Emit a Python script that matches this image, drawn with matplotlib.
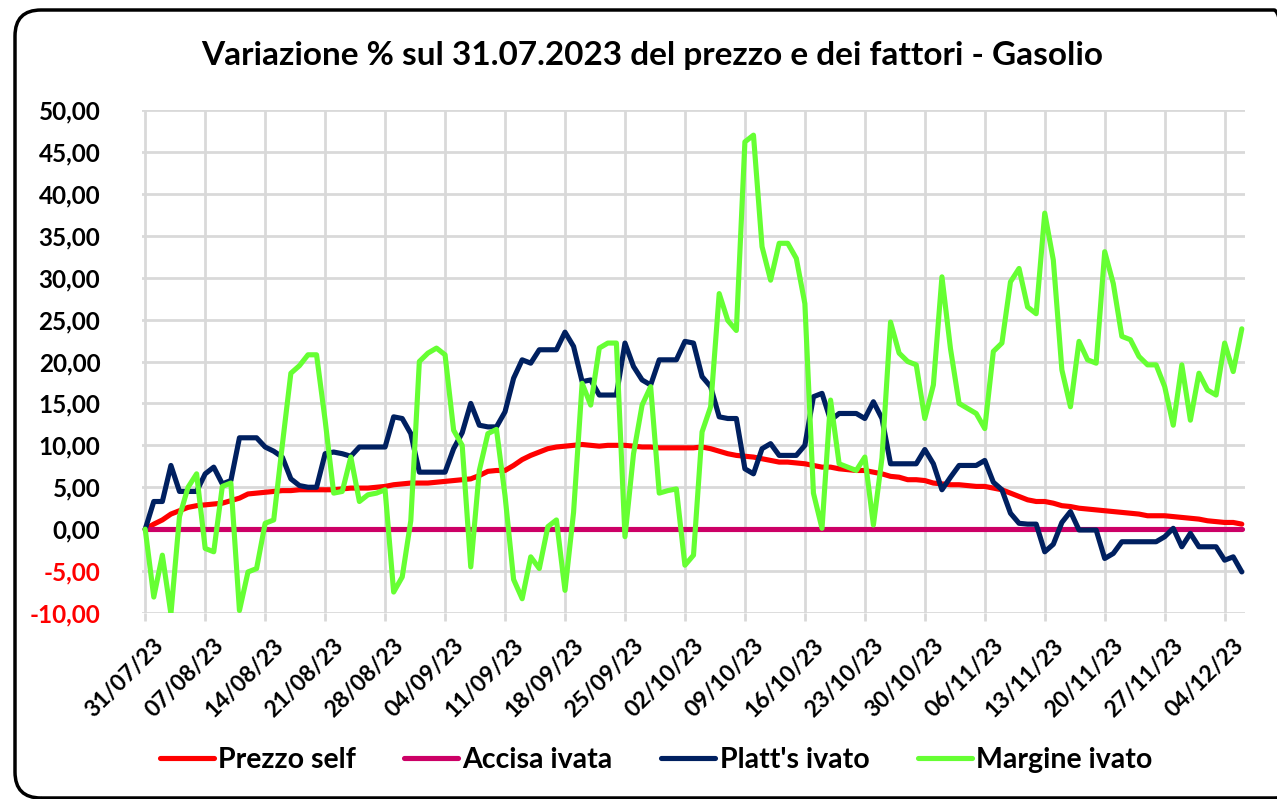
import matplotlib
matplotlib.use("Agg")
import matplotlib.pyplot as plt
import matplotlib.dates as mdates
from matplotlib.patches import FancyBboxPatch
from matplotlib.transforms import IdentityTransform, ScaledTranslation
from matplotlib.ticker import FixedLocator, FuncFormatter
import pandas as pd

# dati giornalieri 31/07/2023 - 06/12/2023 (variazione % sul 31.07.2023)
giorni = pd.date_range("2023-07-31", "2023-12-06", freq="D")

prezzo_self = [
    0.0, 0.6, 1.1, 1.8, 2.2, 2.6, 2.8, 2.9, 3.0, 3.1, 3.4, 3.7, 4.2, 4.3, 4.4, 4.5,
    4.6, 4.6, 4.7, 4.7, 4.7, 4.7, 4.7, 4.8, 4.9, 4.9, 4.9, 5.0, 5.1, 5.3, 5.4, 5.5,
    5.5, 5.5, 5.6, 5.7, 5.8, 5.9, 6.0, 6.4, 6.9, 7.0, 7.0, 7.6, 8.3, 8.8, 9.2, 9.6,
    9.8, 9.9, 10.0, 10.1, 10.0, 9.9, 10.0, 10.0, 10.0, 9.9, 9.8, 9.8, 9.7, 9.7, 9.7, 9.7,
    9.7, 9.8, 9.6, 9.3, 9.0, 8.8, 8.7, 8.6, 8.4, 8.2, 8.0, 8.0, 7.9, 7.8, 7.6, 7.4,
    7.4, 7.2, 7.1, 7.0, 7.0, 6.8, 6.6, 6.3, 6.2, 5.9, 5.9, 5.8, 5.5, 5.4, 5.3, 5.3,
    5.2, 5.1, 5.1, 4.9, 4.7, 4.3, 3.9, 3.5, 3.3, 3.3, 3.1, 2.8, 2.7, 2.5, 2.4, 2.3,
    2.2, 2.1, 2.0, 1.9, 1.8, 1.6, 1.6, 1.6, 1.5, 1.4, 1.3, 1.2, 1.0, 0.9, 0.8, 0.8,
    0.6,
]

accisa_ivata = [0.0] * len(prezzo_self)

platts_ivato = [
    0.0, 3.3, 3.3, 7.6, 4.5, 4.5, 4.5, 6.6, 7.4, 5.4, 5.8, 10.9, 10.9, 10.9, 9.8, 9.3,
    8.6, 6.0, 5.2, 5.0, 5.0, 9.0, 9.2, 9.0, 8.7, 9.8, 9.8, 9.8, 9.8, 13.4, 13.2, 11.4,
    6.8, 6.8, 6.8, 6.8, 9.6, 11.5, 15.0, 12.4, 12.2, 12.2, 14.0, 18.0, 20.2, 19.8, 21.4, 21.4,
    21.4, 23.5, 21.8, 17.6, 17.8, 16.0, 16.0, 16.0, 22.2, 19.4, 17.8, 17.2, 20.2, 20.2, 20.2, 22.4,
    22.2, 18.2, 17.0, 13.4, 13.2, 13.2, 7.2, 6.6, 9.6, 10.2, 8.8, 8.8, 8.8, 10.0, 15.8, 16.2,
    13.0, 13.8, 13.8, 13.8, 13.2, 15.2, 13.2, 7.8, 7.8, 7.8, 7.8, 9.5, 7.8, 4.7, 6.2, 7.6,
    7.6, 7.6, 8.2, 5.6, 4.7, 1.9, 0.7, 0.6, 0.6, -2.7, -1.8, 0.8, 2.1, -0.1, -0.1, -0.1,
    -3.5, -2.9, -1.5, -1.5, -1.5, -1.5, -1.5, -0.9, 0.1, -2.1, -0.5, -2.1, -2.1, -2.1, -3.7, -3.3,
    -5.1,
]

margine_ivato = [
    0.0, -8.1, -3.1, -10.1, 1.5, 5.0, 6.6, -2.3, -2.7, 5.1, 5.5, -9.7, -5.1, -4.7, 0.7, 1.1,
    10.0, 18.6, 19.5, 20.8, 20.8, 13.0, 4.3, 4.5, 8.6, 3.3, 4.1, 4.3, 4.7, -7.5, -5.7, 1.0,
    20.0, 21.0, 21.6, 20.8, 11.8, 10.0, -4.5, 7.0, 11.4, 11.9, 4.0, -6.0, -8.3, -3.3, -4.7, 0.3,
    1.1, -7.3, 2.0, 17.4, 14.8, 21.6, 22.2, 22.2, -0.9, 9.0, 14.8, 17.0, 4.3, 4.6, 4.8, -4.3,
    -3.1, 11.6, 14.6, 28.1, 24.9, 23.7, 46.2, 47.0, 33.7, 29.7, 34.1, 34.1, 32.3, 26.9, 4.3, 0.1,
    15.4, 7.8, 7.4, 7.0, 8.6, 0.5, 8.5, 24.7, 21.0, 20.0, 19.6, 13.2, 17.2, 30.1, 21.5, 15.0,
    14.4, 13.8, 12.0, 21.2, 22.2, 29.5, 31.1, 26.5, 25.7, 37.7, 32.1, 19.0, 14.6, 22.4, 20.2, 19.8,
    33.1, 29.3, 23.0, 22.6, 20.6, 19.6, 19.6, 17.0, 12.4, 19.6, 13.0, 18.6, 16.6, 16.0, 22.2, 18.8,
    23.9,
]

titolo = "Variazione % sul 31.07.2023 del prezzo e dei fattori - Gasolio"
serie = [
    ("Prezzo self", prezzo_self, "#ff0000"),
    ("Accisa ivata", accisa_ivata, "#cc0066"),
    ("Platt's ivato", platts_ivato, "#002060"),
    ("Margine ivato", margine_ivato, "#66ff33"),
]

plt.rcParams["font.family"] = ["Lato", "DejaVu Sans"]
plt.rcParams["font.weight"] = "bold"

fig = plt.figure(figsize=(12.77, 7.99), dpi=100)
ax = fig.add_axes([142 / 1277, 1 - 613 / 799, 1103 / 1277, 503 / 799])

for nome, valori, colore in serie:
    ax.plot(giorni, valori, color=colore, lw=3.7, label=nome,
            solid_joinstyle="round", solid_capstyle="round")

ax.set_ylim(-10, 50)
mezzo = pd.Timedelta(hours=9)
ax.set_xlim(giorni[0] - mezzo, giorni[-1] + mezzo)
ax.yaxis.set_major_locator(FixedLocator(range(-10, 51, 5)))
ax.yaxis.set_major_formatter(FuncFormatter(lambda v, p: f"{v:.2f}".replace(".", ",")))
ax.xaxis.set_major_locator(mdates.WeekdayLocator(byweekday=mdates.MO))
ax.xaxis.set_major_formatter(mdates.DateFormatter("%d/%m/%y"))

ax.grid(True, color="#d9d9d9", lw=2)
ax.set_axisbelow(True)
for s in ax.spines.values():
    s.set_visible(False)

ax.tick_params(axis="y", length=0, pad=30, labelsize=17.5)
ax.tick_params(axis="x", length=6, width=2, color="#d9d9d9", pad=10, labelsize=16.5)
for lab in ax.get_yticklabels():
    if lab.get_text().startswith("-"):
        lab.set_color("red")
sposta = ScaledTranslation(8 / 100, 0, fig.dpi_scale_trans)
for lab in ax.get_xticklabels():
    lab.set_rotation(45)
    lab.set_ha("right")
    lab.set_rotation_mode("anchor")
    lab.set_transform(lab.get_transform() + sposta)

fig.text(652 / 1277, 1 - 65 / 799, titolo, ha="center", va="baseline", fontsize=24,
         fontweight="bold")

fig.legend(loc="center", bbox_to_anchor=(656 / 1277, 1 - 760 / 799), ncol=4, frameon=False,
           fontsize=20.5, handlelength=1.9, columnspacing=1.7, handletextpad=0.15)

bordo = FancyBboxPatch((15, 1), 1285, 788, boxstyle="round,pad=0,rounding_size=26",
                       transform=IdentityTransform(), fill=False, ec="black", lw=2.5)
fig.patches.append(bordo)

fig.savefig("out.png", dpi=100)
